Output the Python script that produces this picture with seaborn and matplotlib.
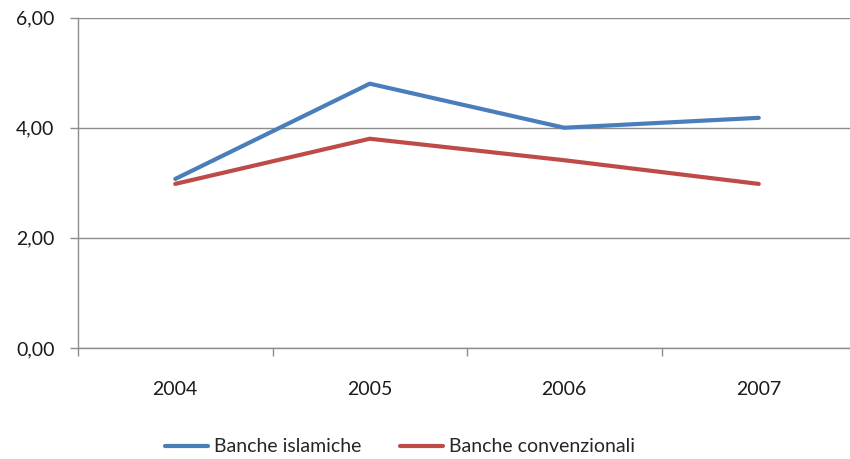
import matplotlib
matplotlib.use("Agg")
import matplotlib.pyplot as plt
import seaborn as sns
import pandas as pd
from matplotlib.ticker import FixedLocator, FuncFormatter

years = ["2004", "2005", "2006", "2007"]
islamiche = [3.07, 4.80, 4.00, 4.18]
convenzionali = [2.98, 3.80, 3.41, 2.98]
series_names = ["Banche islamiche", "Banche convenzionali"]
y_ticks = [0, 2, 4, 6]

sns.set_style("white")
plt.rcParams["font.family"] = ["Lato", "DejaVu Sans"]

df = pd.DataFrame({
    "pos": list(range(len(years))) * 2,
    "valore": islamiche + convenzionali,
    "serie": [series_names[0]] * len(years) + [series_names[1]] * len(years),
})

fig = plt.figure(figsize=(8.5, 4.59), dpi=100)
ax = fig.add_axes([78 / 850, 1 - 348 / 459, 778 / 850, 330.4 / 459])

sns.lineplot(data=df, x="pos", y="valore", hue="serie",
             palette=["#4A7EBB", "#BE4B48"], linewidth=3.0,
             ax=ax, legend=True)
for ln in ax.get_lines():
    ln.set_solid_capstyle("round")
    ln.set_solid_joinstyle("round")

ax.set_xlim(-0.5, len(years) - 0.5)
ax.set_ylim(0, 6)
ax.set_xlabel("")
ax.set_ylabel("")

grid_col = "#8c8c8c"
ax.yaxis.set_major_locator(FixedLocator(y_ticks))
ax.yaxis.set_major_formatter(FuncFormatter(lambda v, _: f"{v:.2f}".replace(".", ",")))
ax.grid(axis="y", color=grid_col, linewidth=1.0)
ax.grid(axis="x", visible=False)
ax.set_axisbelow(True)

# category boundaries as ticks, year labels centred between them
ax.xaxis.set_major_locator(FixedLocator([i - 0.5 for i in range(len(years) + 1)]))
ax.xaxis.set_major_formatter(FuncFormatter(lambda v, _: ""))
ax.xaxis.set_minor_locator(FixedLocator(list(range(len(years)))))
ax.set_xticklabels(years, minor=True)

ax.tick_params(axis="x", which="major", bottom=True, length=6, width=1,
               color=grid_col, direction="out")
ax.tick_params(axis="x", which="minor", bottom=True, length=0, pad=24,
               labelsize=14, labelcolor="#1a1a1a")
ax.tick_params(axis="y", which="major", left=True, length=6, width=1, color=grid_col,
               direction="out", pad=11, labelsize=14, labelcolor="#1a1a1a")

for side in ["top", "right"]:
    ax.spines[side].set_visible(False)
for side in ["left", "bottom"]:
    ax.spines[side].set_color(grid_col)
    ax.spines[side].set_linewidth(1.0)

handles, labels = ax.get_legend_handles_labels()
ax.get_legend().remove()
fig.legend(handles, labels, loc="center", bbox_to_anchor=(400 / 850, 1 - 447 / 459),
           ncol=2, frameon=False, fontsize=14, handlelength=2.2, handletextpad=0.3,
           columnspacing=2.0, borderaxespad=0)

fig.savefig("out.png", dpi=100)
